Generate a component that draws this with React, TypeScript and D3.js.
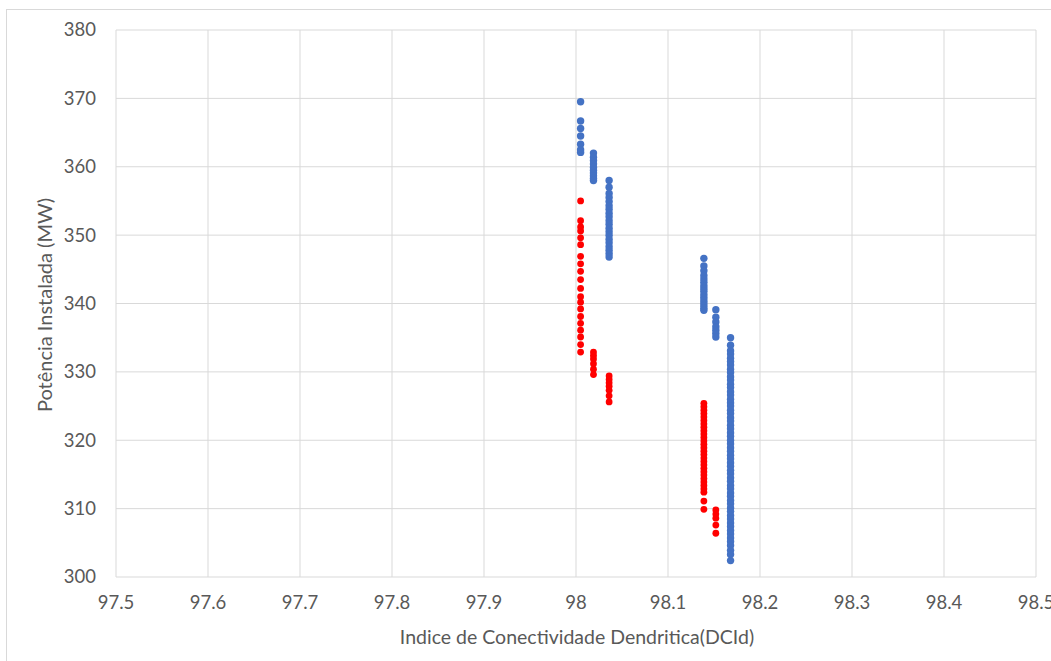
import React from "react";
import * as d3 from "d3";

const xTicks = [97.5, 97.6, 97.7, 97.8, 97.9, 98, 98.1, 98.2, 98.3, 98.4, 98.5];
const yTicks = [300, 310, 320, 330, 340, 350, 360, 370, 380];

const blueGroups: { x: number; ys: number[] }[] = [
  { x: 98.005, ys: [369.5, 366.7, 365.6, 364.5, 363.3, 362.5, 362.1] },
  { x: 98.019, ys: [362.0, 361.4, 360.9, 360.4, 359.9, 359.5, 359.1, 358.7, 358.3, 358.0] },
  { x: 98.036, ys: [358.0, 357.0, 356.1, 355.5, 354.9, 354.3, 353.8, 353.2, 352.7, 352.1, 351.6, 351.0, 350.5, 350.0, 349.4, 348.9, 348.3, 347.8, 347.3, 346.8] },
  { x: 98.139, ys: [346.6, 345.5, 344.8, 344.1, 343.6, 343.1, 342.6, 342.2, 341.8, 341.3, 340.9, 340.5, 340.1, 339.7, 339.3, 339.0] },
  { x: 98.152, ys: [339.1, 338.0, 337.3, 336.6, 336.1, 335.6, 335.1] },
  { x: 98.168, ys: [335.0, 333.9, 333.1, 332.6, 332.0, 331.5, 331.0, 330.4, 329.9, 329.3, 328.8, 328.2, 327.7, 327.1, 326.6, 326.0, 325.5, 325.0, 324.4, 323.9, 323.3, 322.8, 322.2, 321.7, 321.1, 320.6, 320.0, 319.5, 318.9, 318.4, 317.8, 317.3, 316.7, 316.2, 315.6, 315.1, 314.5, 314.0, 313.4, 312.9, 312.3, 311.8, 311.2, 310.7, 310.1, 309.6, 309.0, 308.5, 307.9, 307.4, 306.8, 306.3, 305.7, 305.2, 304.6, 303.9, 303.3, 302.4] },
];

const redGroups: { x: number; ys: number[] }[] = [
  { x: 98.005, ys: [355.0, 352.1, 351.2, 350.6, 349.6, 348.6, 346.9, 345.8, 344.7, 343.5, 342.2, 341.0, 340.2, 339.2, 338.1, 337.1, 336.1, 335.1, 334.0, 332.9] },
  { x: 98.019, ys: [332.9, 332.4, 331.9, 331.2, 330.4, 329.6] },
  { x: 98.036, ys: [329.4, 328.9, 328.4, 327.9, 327.3, 326.5, 325.6] },
  { x: 98.139, ys: [325.4, 324.9, 324.4, 323.9, 323.4, 322.9, 322.4, 321.9, 321.4, 320.9, 320.4, 319.9, 319.4, 318.9, 318.4, 317.9, 317.4, 316.9, 316.4, 315.9, 315.4, 314.9, 314.4, 313.9, 313.4, 312.9, 312.4, 311.1, 309.9] },
  { x: 98.152, ys: [309.8, 309.2, 308.6, 307.6, 306.4] },
];

const W = 1051;
const H = 661;
const left = 116;
const right = 1036;
const top = 30;
const bottom = 577;
const gridColor = "#D9D9D9";
const textColor = "#595959";
const font = "Lato, 'Open Sans', sans-serif";

export default function App() {
  const x = d3.scaleLinear().domain([97.5, 98.5]).range([left, right]);
  const y = d3.scaleLinear().domain([300, 380]).range([bottom, top]);
  const fmt = (v: number) => (Math.abs(v - 98) < 1e-9 ? "98" : d3.format(".1f")(v));

  return (
    <svg width={W} height={H} style={{ position: "absolute", left: 0, top: 0, background: "#fff" }}>
      <rect x={6.5} y={9.5} width={W} height={H} fill="#fff" stroke={gridColor} />
      {yTicks.map((t) => (
        <line key={"gy" + t} x1={left} x2={right} y1={y(t)} y2={y(t)} stroke={gridColor} strokeWidth={1} />
      ))}
      {xTicks.map((t) => (
        <line key={"gx" + t} x1={x(t)} x2={x(t)} y1={top} y2={bottom} stroke={gridColor} strokeWidth={1} />
      ))}
      {yTicks.map((t) => (
        <text key={"ty" + t} x={left - 20} y={y(t)} dy="0.35em" textAnchor="end" fontSize={18.5} fill={textColor} fontFamily={font}>
          {t}
        </text>
      ))}
      {xTicks.map((t) => (
        <text key={"tx" + t} x={x(t)} y={bottom + 32} textAnchor="middle" fontSize={18.5} fill={textColor} fontFamily={font}>
          {fmt(t)}
        </text>
      ))}
      <text x={577} y={644} textAnchor="middle" fontSize={19.5} fill={textColor} fontFamily={font}>
        Indice de Conectividade Dendritica(DCId)
      </text>
      <text
        transform={`translate(52,${305}) rotate(-90)`}
        textAnchor="middle"
        fontSize={20}
        fill={textColor}
        fontFamily={font}
      >
        Potência Instalada (MW)
      </text>
      {blueGroups.map((g, gi) =>
        g.ys.map((v, i) => <circle key={`b${gi}-${i}`} cx={x(g.x)} cy={y(v)} r={3.7} fill="#4472C4" />)
      )}
      {redGroups.map((g, gi) =>
        g.ys.map((v, i) => <circle key={`r${gi}-${i}`} cx={x(g.x)} cy={y(v)} r={3.4} fill="#FF0000" />)
      )}
    </svg>
  );
}
